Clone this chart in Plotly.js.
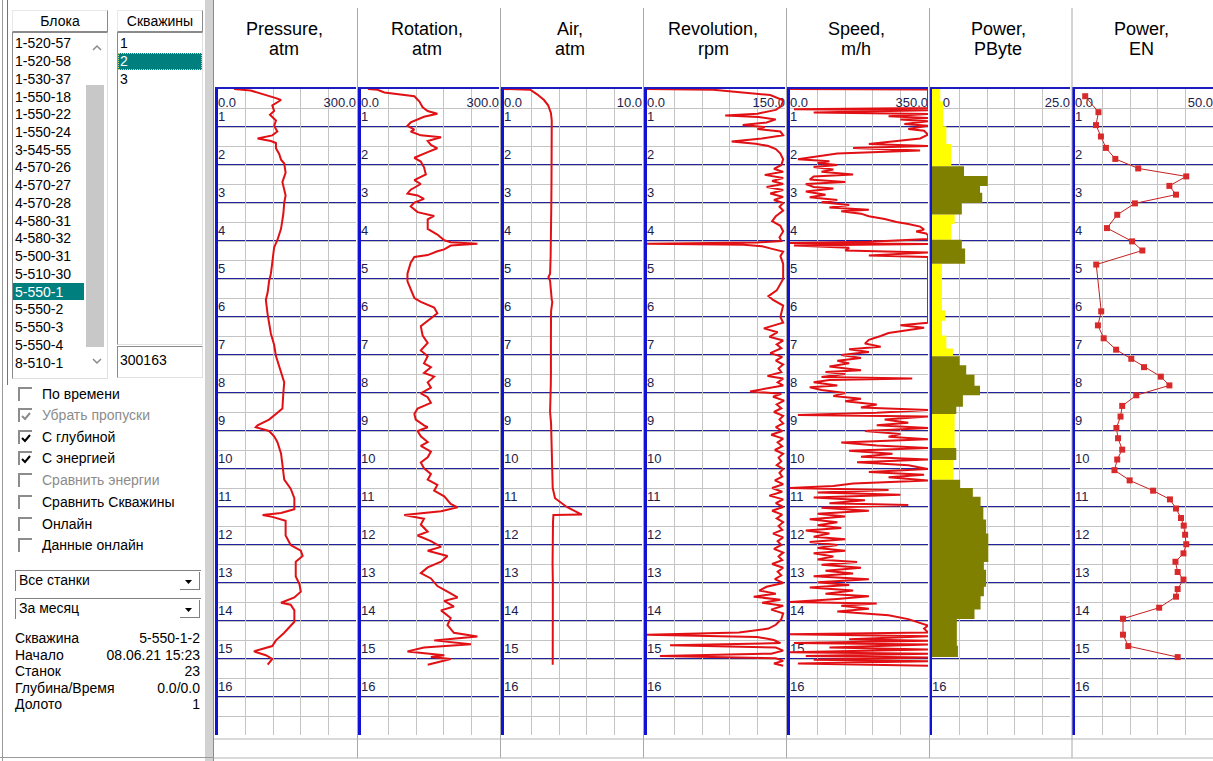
<!DOCTYPE html>
<html><head><meta charset="utf-8">
<script src="https://cdn.plot.ly/plotly-3.0.1.min.js"></script>
<style>
html,body{margin:0;padding:0;width:1213px;height:761px;overflow:hidden;background:#fff;}
#chart{position:absolute;left:0;top:0;width:1213px;height:761px;}
#panel{position:absolute;left:0;top:0;width:214px;height:761px;background:#fff;font-family:"Liberation Sans",Arial,sans-serif;font-size:14px;color:#000;}
#panel div{position:absolute;box-sizing:border-box;white-space:nowrap;}
.hdr{height:22px;line-height:20px;text-align:center;background:#fff;border:1px solid;border-color:#e8e8e8 #8a8a8a #8a8a8a #e8e8e8;}
.box{background:#fff;border:1px solid;border-color:#8a8a8a #e0e0e0 #e0e0e0 #8a8a8a;}
.item{height:18px;line-height:18px;}
.cb{width:14px;height:14px;border-top:2px solid #8c8c8c;border-left:2px solid #8c8c8c;}
.lbl{height:18px;line-height:18px;}
</style>
</head><body>
<div id="chart"></div>
<div id="panel"></div>
<script>
// ---------- chart data ----------
const trackTitles1 = ['Pressure,','Rotation,','Air,','Revolution,','Speed,','Power,','Power,'];
const trackTitles2 = ['atm','atm','atm','rpm','m/h','PByte','EN'];
const scaleMinLabels = ['0.0','0.0','0.0','0.0','0.0','0.0','0.0'];
const scaleMaxLabels = ['300.0','300.0','10.0','150.0','350.0','25.0','50.0'];
const trackMax = [300,300,10,150,350,25,50];
const depthLabels = [1,2,3,4,5,6,7,8,9,10,11,12,13,14,15,16];

const pressureDepth = [0.00,0.04,0.24,0.29,0.43,0.58,0.68,0.83,0.97,1.12,1.22,1.27,1.30,1.37,1.42,1.56,1.71,1.86,1.96,2.20,2.45,2.80,2.99,3.29,3.68,3.98,4.17,4.57,4.86,5.06,5.35,5.55,5.94,6.44,6.73,7.03,7.42,7.72,8.01,8.41,8.55,8.70,8.85,8.90,9.00,9.14,9.29,9.59,9.88,10.28,10.52,10.77,11.06,11.16,11.21,11.26,11.36,11.75,12.00,12.15,12.29,12.44,12.83,13.03,13.23,13.38,13.52,13.57,13.72,14.02,14.31,14.51,14.66,14.80,14.90,15.00,15.15];
const pressureValue = [35,71,126,137,118,122,113,126,122,129,118,100,86,115,126,126,133,137,144,147,140,147,144,142,137,129,122,118,115,111,108,104,108,115,122,126,137,144,142,140,126,111,86,82,111,122,129,137,140,144,158,166,166,137,97,118,147,147,158,180,184,169,169,177,180,166,137,158,166,166,144,126,118,78,104,118,108];

const rotationDepth = [0.00,0.02,0.09,0.19,0.33,0.48,0.58,0.65,0.73,0.88,0.97,1.07,1.12,1.22,1.27,1.37,1.47,1.56,1.66,1.81,1.91,2.06,2.25,2.40,2.50,2.65,2.75,2.80,2.89,2.99,3.09,3.24,3.34,3.43,3.68,3.83,3.98,4.03,4.07,4.12,4.22,4.27,4.37,4.42,4.57,4.86,5.06,5.26,5.50,5.60,5.75,5.90,6.09,6.24,6.49,6.68,6.88,7.03,7.22,7.32,7.47,7.57,7.72,7.86,8.01,8.11,8.26,8.41,8.55,8.70,8.85,8.90,9.00,9.14,9.29,9.39,9.54,9.69,9.83,9.98,10.13,10.28,10.42,10.57,10.72,10.92,11.01,11.11,11.21,11.31,11.46,11.65,11.75,11.90,12.05,12.15,12.29,12.44,12.59,12.74,12.88,13.08,13.23,13.38,13.47,13.62,13.72,13.92,14.11,14.31,14.41,14.51,14.61,14.70,14.80,14.90,14.95,15.00,15.15];
const rotationValue = [15,36,51,116,127,134,145,166,137,108,101,116,108,130,174,145,152,166,145,116,130,137,141,116,130,108,101,123,137,116,108,123,159,145,145,166,181,195,253,195,181,166,145,116,108,101,101,108,116,130,159,166,145,130,134,145,130,145,137,152,137,159,145,152,130,145,152,123,116,119,137,145,123,130,145,130,152,145,130,137,152,145,166,159,181,195,210,174,94,137,130,145,123,152,174,145,188,174,145,130,152,166,188,210,181,202,174,195,188,202,253,159,239,137,101,181,152,195,145];

const airDepth = [0.00,0.02,0.14,0.29,0.43,0.63,0.83,1.5,2.0,2.5,3.0,3.5,3.9,4.4,4.86,4.95,5.05,5.3,5.55,5.6,5.85,6.5,7.0,7.5,7.8,8.2,8.5,8.8,9.3,9.8,10.2,10.5,10.77,10.9,11.0,11.2,11.21,11.4,11.75,12.5,13.0,13.5,14.0,14.5,15.0,15.15];
const airValue = [0,1.9,2.4,2.9,3.2,3.4,3.46,3.47,3.45,3.44,3.43,3.42,3.41,3.38,3.34,3.22,3.34,3.38,3.46,3.50,3.41,3.40,3.42,3.40,3.39,3.37,3.34,3.41,3.44,3.46,3.50,3.53,3.70,4.2,4.55,5.64,3.58,3.55,3.53,3.52,3.54,3.53,3.52,3.51,3.52,3.53];

const revolutionDepth = [0.00,0.02,0.16,0.30,0.45,0.55,0.65,0.70,0.74,0.80,0.88,0.95,1.00,1.05,1.12,1.22,1.30,1.38,1.44,1.50,1.58,1.70,1.85,2.00,2.10,2.18,2.26,2.34,2.42,2.50,2.58,2.66,2.75,2.84,2.92,3.00,3.10,3.20,3.35,3.48,3.60,3.75,3.90,4.00,4.04,4.07,4.10,4.14,4.20,4.28,4.40,4.60,5.00,5.30,5.45,5.55,5.70,6.00,6.15,6.30,6.40,6.52,6.62,6.72,6.82,6.95,7.05,7.15,7.25,7.35,7.45,7.55,7.62,7.72,7.80,7.90,7.96,8.02,8.10,8.20,8.30,8.40,8.50,8.60,8.70,8.80,8.90,9.00,9.10,9.20,9.30,9.40,9.50,9.60,9.70,9.80,9.90,10.00,10.10,10.20,10.30,10.40,10.50,10.60,10.70,10.80,10.90,11.00,11.10,11.20,11.30,11.40,11.50,11.60,11.70,11.80,11.90,12.00,12.10,12.20,12.30,12.40,12.50,12.60,12.70,12.80,12.90,13.00,13.10,13.20,13.28,13.36,13.44,13.52,13.60,13.70,13.80,13.95,14.10,14.20,14.30,14.36,14.42,14.50,14.58,14.64,14.70,14.78,14.86,14.92,14.98,15.05,15.12,15.18];
const revolutionValue = [0,72,134,148,146,140,120,85,121,140,130,104,128,120,145,148,125,92,118,132,140,145,148,146,138,148,128,148,136,148,130,148,134,148,138,148,144,148,140,136,145,148,144,146,120,0,105,125,135,148,145,148,148,141,132,137,148,145,148,127,142,133,148,141,146,134,147,140,148,143,146,131,148,142,148,128,112,146,137,149,141,146,138,148,144,148,140,147,135,148,142,147,139,148,143,146,141,148,144,147,139,148,136,147,133,148,140,148,136,147,141,148,143,147,137,148,142,146,138,148,143,147,136,148,142,146,139,148,130,122,140,116,145,125,148,135,148,146,140,132,100,0,120,138,145,25,140,148,135,14,140,148,138,148];

const speedDepth = [0.00,0.01,0.50,0.53,0.56,0.62,0.66,0.72,0.76,0.80,0.85,0.92,0.97,1.05,1.10,1.20,1.30,1.45,1.50,1.55,1.62,1.70,1.80,1.85,1.90,1.95,2.00,2.05,2.12,2.18,2.25,2.30,2.38,2.45,2.50,2.58,2.62,2.70,2.78,2.85,2.92,2.98,3.05,3.12,3.18,3.22,3.28,3.35,3.42,3.50,3.55,3.62,3.70,3.75,3.80,3.85,3.95,4.02,4.05,4.08,4.12,4.18,4.25,4.30,4.38,4.42,6.15,6.22,6.28,6.35,6.42,6.50,6.60,6.70,6.78,6.85,6.92,7.00,7.08,7.15,7.22,7.30,7.40,7.45,7.50,7.58,7.62,7.66,7.72,7.80,7.85,7.92,8.00,8.08,8.15,8.22,8.30,8.38,8.45,8.52,8.58,8.62,8.70,8.78,8.85,8.92,9.00,9.08,9.15,9.22,9.30,9.38,9.45,9.52,9.60,9.68,9.75,9.82,9.90,10.00,10.08,10.15,10.22,10.30,10.38,10.45,10.50,10.55,10.62,10.68,10.75,10.82,10.90,10.95,11.02,11.10,11.18,11.25,11.32,11.40,11.48,11.55,11.62,11.70,11.78,11.85,11.92,12.00,12.08,12.15,12.22,12.30,12.38,12.45,12.52,12.60,12.68,12.75,12.82,12.90,12.98,13.05,13.12,13.20,13.28,13.35,13.42,13.50,13.54,13.60,13.68,13.75,13.85,13.95,14.05,14.12,14.20,14.30,14.35,14.40,14.48,14.52,14.58,14.62,14.70,14.75,14.82,14.86,14.92,14.96,15.02,15.06,15.12,15.18];
const speedValue = [0,350,350,10,350,60,350,250,350,280,350,290,350,300,340,350,330,200,350,160,330,120,50,20,100,70,120,60,110,80,160,60,50,140,40,60,110,40,90,50,120,80,150,100,200,130,180,200,240,270,300,330,340,320,345,350,350,200,0,350,10,150,140,350,200,350,350,280,340,300,250,230,200,190,230,150,200,130,180,120,150,100,180,90,140,80,310,100,60,120,50,80,140,110,180,140,220,180,350,220,20,350,240,300,220,350,190,280,250,350,130,220,350,150,260,180,350,170,300,350,200,340,250,350,160,110,0,250,70,280,60,190,100,300,80,200,70,140,50,120,70,130,40,100,60,140,50,120,70,140,60,110,70,170,80,180,90,160,60,200,70,150,50,160,90,200,120,0,220,130,200,120,250,300,330,350,340,350,0,350,150,350,10,350,100,350,0,350,40,350,60,350,20,350];

// Power, PByte: stepped blocks (boundaries, value, kind Y = yellow, O = olive)
const pbyteDepth = [0.00,0.33,0.98,1.45,2.03,2.29,2.55,2.73,3.00,3.30,3.55,3.97,4.20,4.60,5.83,6.10,6.49,6.83,7.03,7.27,7.52,7.81,8.06,8.36,8.55,9.45,9.76,10.28,10.50,10.73,11.00,11.33,11.70,12.45,12.65,13.10,13.35,13.70,13.95,14.65,14.95];
const pbyteValue = [1.5,2.0,2.6,3.5,5.8,10.1,8.7,9.1,5.4,4.1,3.5,5.4,6.0,1.8,2.4,1.8,2.6,3.8,5.0,6.2,7.7,8.7,5.6,4.4,4.1,4.4,3.9,5.1,7.4,8.8,9.3,9.8,10.2,9.4,9.8,9.4,8.8,7.7,4.5,4.7];
const pbyteKind = ['Y','Y','Y','Y','O','O','O','O','O','Y','Y','O','O','Y','Y','Y','Y','Y','O','O','O','O','O','O','Y','O','Y','O','O','O','O','O','O','O','O','O','O','O','O','O'];

const enDepth = [0.19,0.61,0.95,1.25,1.55,1.84,2.09,2.30,2.55,2.78,3.01,3.31,3.66,4.01,4.25,4.62,5.85,6.22,6.56,6.86,7.10,7.32,7.57,7.80,8.06,8.34,8.62,8.92,9.19,9.49,9.75,10.03,10.30,10.57,10.80,11.04,11.29,11.49,11.73,11.98,12.22,12.44,12.71,12.91,13.16,13.36,13.65,13.94,14.36,14.66,14.95];
const enValue = [3.7,8.5,7.6,9.4,11.2,14.6,22.9,40.3,34.2,36.6,21.7,15.3,11.6,20.7,24.4,7.7,9.5,8.3,10.4,14.9,20.4,25.0,31.1,34.2,22.2,17.1,16.5,15.0,15.6,17.1,15.3,14.3,19.8,28.3,34.4,36.6,38.4,39.4,39.9,40.3,39.3,36.4,37.2,39.3,37.2,36.6,30.5,17.4,17.4,19.3,37.2];

// ---------- left panel texts ----------
const blockNames = ['1-520-57','1-520-58','1-530-37','1-550-18','1-550-22','1-550-24','3-545-55','4-570-26','4-570-27','4-570-28','4-580-31','4-580-32','5-500-31','5-510-30','5-550-1','5-550-2','5-550-3','5-550-4','8-510-1'];
const wellNames = ['1','2','3'];
const checkLabels = ['По времени','Убрать пропуски','С глубиной','С энергией','Сравнить энергии','Сравнить Скважины','Онлайн','Данные онлайн'];
const checkState = [0,1,1,1,0,0,0,0];
const checkDisabled = [0,1,0,0,1,0,0,0];
const infoLabels = ['Скважина','Начало','Станок','Глубина/Время','Долото'];
const infoValues = ['5-550-1-2','08.06.21 15:23','23','0.0/0.0','1'];

// ---------- layout geometry ----------
const W = 1213, H = 761;
const yTopPx = 89, yBotPx = 735;
const trackLeft = [218, 361, 504, 647, 790, 932, 1075];
const trackW = 138;
const separators = [357.5, 500.5, 643.5, 786.5, 929.5, 1072];
const titleCenters = [284, 427, 570, 713, 856, 998, 1141];
const px = v => v / W;
const py = v => 1 - v / H;

const layout = {
  width: W, height: H, margin: {l:0, r:0, t:0, b:0},
  paper_bgcolor: '#ffffff', plot_bgcolor: '#ffffff', showlegend: false,
  font: {family: 'Liberation Sans, Arial, sans-serif'},
  annotations: [], shapes: []
};
const traces = [];
const axId = i => i === 0 ? '' : String(i + 1);

for (let i = 0; i < 7; i++) {
  const k = axId(i);
  const below = (i === 5) ? 'below traces' : 'above traces';
  layout['xaxis' + k] = {
    domain: [px(trackLeft[i]), px(trackLeft[i] + trackW)],
    range: [0, trackMax[i]], anchor: 'y' + k, side: 'top',
    showline: true, linecolor: '#1c1cc0', linewidth: 2,
    showgrid: true, gridcolor: '#c4c4c4', gridwidth: 1,
    tick0: 0, dtick: trackMax[i] / 5, showticklabels: false, ticks: '',
    zeroline: false, fixedrange: true, layer: below
  };
  layout['yaxis' + k] = {
    domain: [py(yBotPx), py(yTopPx)], range: [17, 0], anchor: 'x' + k,
    showline: true, linecolor: '#1212d4', linewidth: 3,
    showgrid: true, gridcolor: '#c4c4c4', gridwidth: 1,
    tick0: 0, dtick: 0.5,
    showticklabels: false, ticks: '', zeroline: false, fixedrange: true, layer: below
  };
  depthLabels.forEach(n => layout.shapes.push({type: 'line', xref: 'x' + k, yref: 'y' + k,
    x0: 0, x1: trackMax[i], y0: n, y1: n, layer: 'below', line: {color: '#22229e', width: 2}}));

  const tx = [], ty = [], tt = [], tp = [];
  depthLabels.forEach(n => { tx.push(0); ty.push(n - 0.24); tt.push(String(n)); tp.push('middle right'); });
  tx.push(0); ty.push(0.40); tt.push(scaleMinLabels[i]); tp.push('middle right');
  tx.push(trackMax[i]); ty.push(0.40); tt.push(scaleMaxLabels[i]); tp.push('middle left');
  traces.push({type: 'scatter', mode: 'text', x: tx, y: ty, text: tt, textposition: tp,
    textfont: {size: 13, color: '#1c1c4c', family: 'Liberation Sans, Arial'},
    xaxis: 'x' + k, yaxis: 'y' + k, hoverinfo: 'skip', cliponaxis: false});

  layout.annotations.push({xref: 'paper', yref: 'paper', x: px(titleCenters[i]), y: py(29), text: trackTitles1[i],
    showarrow: false, xanchor: 'center', yanchor: 'middle', font: {size: 18, color: '#000'}});
  layout.annotations.push({xref: 'paper', yref: 'paper', x: px(titleCenters[i]), y: py(49), text: trackTitles2[i],
    showarrow: false, xanchor: 'center', yanchor: 'middle', font: {size: 18, color: '#000'}});
}

separators.forEach(s => layout.shapes.push({type: 'line', xref: 'paper', yref: 'paper',
  x0: px(s), x1: px(s), y0: py(8), y1: py(758), line: {color: '#a8a8a8', width: 1}}));
[739, 758].forEach(v => layout.shapes.push({type: 'line', xref: 'paper', yref: 'paper',
  x0: px(214), x1: 1, y0: py(v), y1: py(v), line: {color: '#b4b4b4', width: 1}}));

const redLine = {color: '#e01014', width: 2};
traces.push({type: 'scatter', mode: 'lines', x: pressureValue, y: pressureDepth, line: redLine, xaxis: 'x', yaxis: 'y'});
traces.push({type: 'scatter', mode: 'lines', x: rotationValue, y: rotationDepth, line: redLine, xaxis: 'x2', yaxis: 'y2'});
traces.push({type: 'scatter', mode: 'lines', x: airValue, y: airDepth, line: redLine, xaxis: 'x3', yaxis: 'y3'});
traces.push({type: 'scatter', mode: 'lines', x: revolutionValue, y: revolutionDepth, line: redLine, xaxis: 'x4', yaxis: 'y4'});
traces.push({type: 'scatter', mode: 'lines', x: speedValue, y: speedDepth, line: redLine, xaxis: 'x5', yaxis: 'y5'});

function buildBlocks(kind) {
  const x = [], y = [];
  let open = false;
  for (let i = 0; i < pbyteValue.length; i++) {
    if (pbyteKind[i] !== kind) continue;
    if (!open) { x.push(0); y.push(pbyteDepth[i]); open = true; }
    x.push(pbyteValue[i]); y.push(pbyteDepth[i]);
    x.push(pbyteValue[i]); y.push(pbyteDepth[i + 1]);
    const nextSame = i + 1 < pbyteValue.length && pbyteKind[i + 1] === kind;
    if (!nextSame) { x.push(0); y.push(pbyteDepth[i + 1]); x.push(null); y.push(null); open = false; }
  }
  return {x, y};
}
const yb = buildBlocks('Y'), ob = buildBlocks('O');
traces.push({type: 'scatter', mode: 'lines', x: yb.x, y: yb.y, fill: 'toself', fillcolor: '#ffff00',
  line: {width: 0, color: '#ffff00'}, xaxis: 'x6', yaxis: 'y6'});
traces.push({type: 'scatter', mode: 'lines', x: ob.x, y: ob.y, fill: 'toself', fillcolor: '#808000',
  line: {width: 0, color: '#808000'}, xaxis: 'x6', yaxis: 'y6'});

traces.push({type: 'scatter', mode: 'lines+markers', x: enValue, y: enDepth,
  line: {color: '#c42020', width: 1}, marker: {symbol: 'square', size: 6, color: '#d82a2a'},
  xaxis: 'x7', yaxis: 'y7'});

Plotly.newPlot('chart', traces, layout, {staticPlot: true, displayModeBar: false});

// ---------- left panel (UI) ----------
const P = document.getElementById('panel');
function el(style, cls, html) {
  const d = document.createElement('div');
  if (cls) d.className = cls;
  d.style.cssText = style;
  if (html !== undefined) d.innerHTML = html;
  P.appendChild(d);
  return d;
}
el('left:2px;top:0;width:1px;height:761px;background:#9a9a9a;');
el('left:7px;top:0;width:1px;height:385px;background:#3c8c8c;');
el('left:205px;top:0;width:9px;height:761px;background:#d2d2d2;border-right:1px solid #8c8c8c;');
el('left:0;top:757px;width:214px;height:1px;background:#9a9a9a;');

el('left:12px;top:10px;width:96px;', 'hdr', 'Блока');
el('left:117px;top:10px;width:86px;', 'hdr', 'Скважины');
el('left:12px;top:32px;width:96px;height:347px;', 'box');
el('left:117px;top:32px;width:86px;height:313px;', 'box');
el('left:117px;top:346px;width:86px;height:32px;', 'box');
el('left:120px;top:351px;', 'item', '300163');

// scrollbar
el('left:86px;top:85px;width:18px;height:262px;background:#c8c8c8;');
el('left:89px;top:40px;width:16px;height:14px;',
  null, '<svg width="16" height="14"><polyline points="4,10 8,6 12,10" fill="none" stroke="#8a8a8a" stroke-width="1.5"/></svg>');
el('left:89px;top:354px;width:16px;height:14px;',
  null, '<svg width="16" height="14"><polyline points="4,5 8,9 12,5" fill="none" stroke="#8a8a8a" stroke-width="1.5"/></svg>');

blockNames.forEach((n, i) => {
  const c = 43.3 + 17.74 * i;
  if (n === '5-550-1') {
    el('left:13px;top:' + (c - 8.5) + 'px;width:71px;height:17px;background:#007f7f;');
    el('left:15px;top:' + (c - 9) + 'px;color:#fff;', 'item', n);
  } else {
    el('left:15px;top:' + (c - 9) + 'px;', 'item', n);
  }
});
wellNames.forEach((n, i) => {
  const c = 43.3 + 17.74 * i;
  if (n === '2') {
    el('left:118px;top:' + (c - 8.5) + 'px;width:84px;height:17px;background:#007f7f;outline:1px dotted #d8d870;outline-offset:-1px;');
    el('left:120px;top:' + (c - 9) + 'px;color:#fff;', 'item', n);
  } else {
    el('left:120px;top:' + (c - 9) + 'px;', 'item', n);
  }
});

const checkCenters = [394, 415, 437, 458, 480, 502, 524, 545];
checkLabels.forEach((t, i) => {
  const c = checkCenters[i];
  el('left:18px;top:' + (c - 7) + 'px;', 'cb');
  if (checkState[i]) {
    const col = checkDisabled[i] ? '#8c8c8c' : '#000';
    el('left:20px;top:' + (c - 5) + 'px;width:12px;height:12px;', null,
      '<svg width="12" height="12"><polyline points="2,5 5,8 10,2" fill="none" stroke="' + col + '" stroke-width="2"/></svg>');
  }
  el('left:42px;top:' + (c - 9) + 'px;' + (checkDisabled[i] ? 'color:#8c8c8c;' : ''), 'lbl', t);
});

[['Все станки', 570], ['За месяц', 598]].forEach(([t, top]) => {
  el('left:15px;top:' + top + 'px;width:186px;height:21px;background:#fff;border-top:1px solid #808080;border-left:1px solid #808080;');
  el('left:19px;top:' + (top + 1) + 'px;', 'lbl', t);
  el('left:178px;top:' + (top + 2) + 'px;width:23px;height:19px;', null,
    '<svg width="23" height="19"><polygon points="7,8 14,8 10.5,12" fill="#000"/><line x1="2" y1="17.5" x2="22" y2="17.5" stroke="#808080"/><line x1="21.5" y1="0" x2="21.5" y2="18" stroke="#808080"/></svg>');
});

const infoCenters = [638, 655, 671, 688, 704];
infoLabels.forEach((t, i) => {
  el('left:15px;top:' + (infoCenters[i] - 9) + 'px;', 'lbl', t);
  el('right:14px;top:' + (infoCenters[i] - 9) + 'px;text-align:right;', 'lbl', infoValues[i]);
});
</script>
</body></html>
